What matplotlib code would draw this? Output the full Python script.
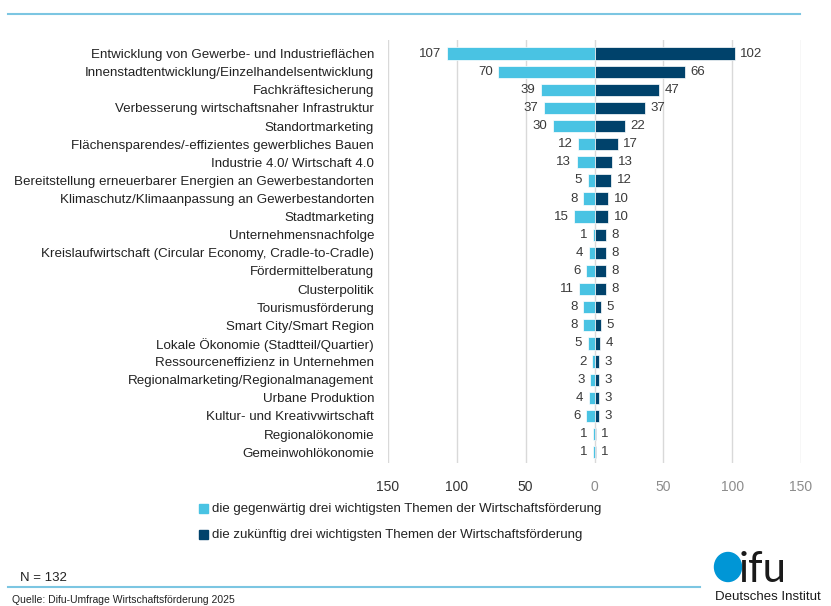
import matplotlib.pyplot as plt
from matplotlib.patches import Ellipse, Rectangle
from matplotlib.lines import Line2D

plt.rcParams['font.family'] = ['Liberation Sans', 'DejaVu Sans']

themen = [
    'Entwicklung von Gewerbe- und Industrieflächen',
    'Innenstadtentwicklung/Einzelhandelsentwicklung',
    'Fachkräftesicherung',
    'Verbesserung wirtschaftsnaher Infrastruktur',
    'Standortmarketing',
    'Flächensparendes/-effizientes gewerbliches Bauen',
    'Industrie 4.0/ Wirtschaft 4.0',
    'Bereitstellung erneuerbarer Energien an Gewerbestandorten',
    'Klimaschutz/Klimaanpassung an Gewerbestandorten',
    'Stadtmarketing',
    'Unternehmensnachfolge',
    'Kreislaufwirtschaft (Circular Economy, Cradle-to-Cradle)',
    'Fördermittelberatung',
    'Clusterpolitik',
    'Tourismusförderung',
    'Smart City/Smart Region',
    'Lokale Ökonomie (Stadtteil/Quartier)',
    'Ressourceneffizienz in Unternehmen',
    'Regionalmarketing/Regionalmanagement',
    'Urbane Produktion',
    'Kultur- und Kreativwirtschaft',
    'Regionalökonomie',
    'Gemeinwohlökonomie',
]
gegenwaertig = [107, 70, 39, 37, 30, 12, 13, 5, 8, 15, 1, 4, 6, 11, 8, 8, 5, 2, 3, 4, 6, 1, 1]
zukuenftig = [102, 66, 47, 37, 22, 17, 13, 12, 10, 10, 8, 8, 8, 8, 5, 5, 4, 3, 3, 3, 3, 1, 1]
ticks = [-150, -100, -50, 0, 50, 100, 150]

hell = '#49c3e3'
dunkel = '#00426b'
linie = '#7cc6e2'

fig = plt.figure(figsize=(8.31, 6.06), dpi=100)
ax = fig.add_axes([388 / 831, 1 - 463 / 606, 413 / 831, 423 / 606])

y = list(range(len(themen)))
ax.barh(y, [-v for v in gegenwaertig], height=0.68, color=hell, edgecolor='white', linewidth=0.5, zorder=3)
ax.barh(y, zukuenftig, height=0.68, color=dunkel, edgecolor='white', linewidth=0.5, zorder=3)

for i in y:
    ax.text(-gegenwaertig[i] - 4, i, str(gegenwaertig[i]), ha='right', va='center',
            fontsize=9.5, color='#3a3a3a')
    ax.text(zukuenftig[i] + 4, i, str(zukuenftig[i]), ha='left', va='center',
            fontsize=9.5, color='#3a3a3a')

ax.set_xlim(-150, 150)
ax.set_ylim(len(themen) - 0.4, -0.75)
ax.set_xticks(ticks)
ax.set_xticklabels([str(abs(t)) for t in ticks], fontsize=10)
for lbl, t in zip(ax.get_xticklabels(), ticks):
    lbl.set_color('#333333' if t < 0 else '#8c8c8c')
ax.set_yticks(y)
ax.set_yticklabels(themen, fontsize=9.6, color='#222222')
ax.tick_params(axis='y', length=0, pad=10)
ax.tick_params(axis='x', length=0, pad=12)
ax.grid(axis='x', color='#d9d9d9', linewidth=1, zorder=0)
for s in ax.spines.values():
    s.set_visible(False)

# Linien oben und unten
fig.add_artist(Line2D([8 / 831, 800 / 831], [1 - 14 / 606] * 2, color=linie, linewidth=1.5))
fig.add_artist(Line2D([8 / 831, 700 / 831], [1 - 587 / 606] * 2, color=linie, linewidth=1.5))

# Legende
fig.add_artist(Rectangle((199 / 831, 1 - 513 / 606), 9 / 831, 9 / 606, color=hell))
fig.text(212 / 831, 1 - 509 / 606, 'die gegenwärtig drei wichtigsten Themen der Wirtschaftsförderung',
         fontsize=9.5, va='center', color='#222222')
fig.add_artist(Rectangle((199 / 831, 1 - 539 / 606), 9 / 831, 9 / 606, color=dunkel))
fig.text(212 / 831, 1 - 535 / 606, 'die zukünftig drei wichtigsten Themen der Wirtschaftsförderung',
         fontsize=9.5, va='center', color='#222222')

fig.text(20 / 831, 1 - 578 / 606, 'N = 132', fontsize=9.5, va='center', color='#222222')
fig.text(12 / 831, 1 - 600 / 606, 'Quelle: Difu-Umfrage Wirtschaftsförderung 2025', fontsize=7.5,
         va='center', color='#222222')

# Logo
fig.add_artist(Ellipse((728 / 831, 1 - 567 / 606), 27 / 831, 29 / 606, color='#0096d6',
                       transform=fig.transFigure))
fig.text(739 / 831, 1 - 582 / 606, 'ifu', fontsize=30, va='baseline', color='#1a1a1a',
         family=['Lato', 'DejaVu Sans'], fontweight='normal')
fig.text(715 / 831, 1 - 597 / 606, 'Deutsches Institut', fontsize=9.5, va='center', color='#1a1a1a')

fig.savefig('out.png', dpi=100)
